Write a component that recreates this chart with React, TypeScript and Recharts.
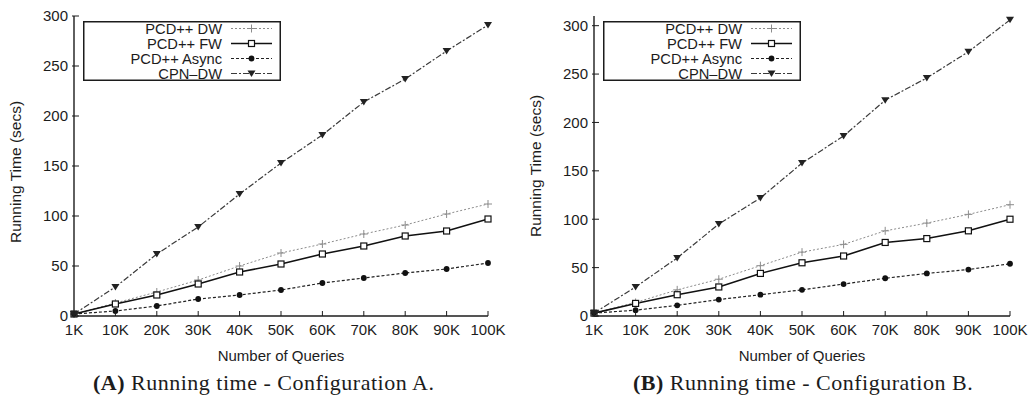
import { LineChart, Line, XAxis, YAxis, Legend } from 'recharts';

const QUERIES = ['1K', '10K', '20K', '30K', '40K', '50K', '60K', '70K', '80K', '90K', '100K'];
const Y_TICKS = [0, 50, 100, 150, 200, 250, 300];

// Configuration A
const A_DW = [2, 13, 24, 36, 50, 63, 72, 82, 91, 102, 112];
const A_FW = [2, 12, 21, 32, 44, 52, 62, 70, 80, 85, 97];
const A_ASYNC = [2, 5, 10, 17, 21, 26, 33, 38, 43, 47, 53];
const A_CPN = [2, 29, 62, 89, 122, 153, 181, 214, 237, 265, 291];

// Configuration B
const B_DW = [3, 14, 27, 38, 52, 66, 74, 88, 96, 105, 115];
const B_FW = [3, 13, 22, 30, 44, 55, 62, 76, 80, 88, 100];
const B_ASYNC = [3, 6, 11, 17, 22, 27, 33, 39, 44, 48, 54];
const B_CPN = [3, 30, 60, 95, 122, 158, 186, 223, 246, 273, 306];

const FONT = '"Liberation Sans", Arial, Helvetica, sans-serif';
const SERIF = '"Liberation Serif", "Times New Roman", Times, serif';
const INK = '#1c1c1c';
const FRAME = 1.4;

type Kind = 'plus' | 'square' | 'circle' | 'triangle';

const SERIES: { key: string; name: string; stroke: string; width: number; dash?: string; marker: Kind }[] = [
  { key: 'dw', name: 'PCD++ DW', stroke: '#8c8c8c', width: 1, dash: '2 2', marker: 'plus' },
  { key: 'fw', name: 'PCD++ FW', stroke: '#111', width: 1.6, marker: 'square' },
  { key: 'async', name: 'PCD++ Async', stroke: '#222', width: 1.2, dash: '3 2', marker: 'circle' },
  { key: 'cpn', name: 'CPN–DW', stroke: '#3a3a3a', width: 1.2, dash: '6 2 2 2', marker: 'triangle' },
];

function buildRows(dw: number[], fw: number[], async: number[], cpn: number[]) {
  return QUERIES.map((q, i) => ({ q, dw: dw[i], fw: fw[i], async: async[i], cpn: cpn[i] }));
}

function Marker({ kind, cx, cy, color }: { kind: Kind; cx: number; cy: number; color: string }) {
  switch (kind) {
    case 'plus':
      return <path d={`M${cx - 4},${cy}H${cx + 4}M${cx},${cy - 4}V${cy + 4}`} stroke={color} strokeWidth={1} fill="none" />;
    case 'square':
      return <rect x={cx - 3} y={cy - 3} width={6} height={6} fill="#fff" stroke="#111" strokeWidth={1.2} />;
    case 'circle':
      return <circle cx={cx} cy={cy} r={2.9} fill="#111" />;
    default:
      return <path d={`M${cx - 4},${cy - 3}L${cx + 4},${cy - 3}L${cx},${cy + 3.5}Z`} fill="#222" />;
  }
}

function BottomTick({ x, y, payload }: any) {
  return (
    <g>
      <line x1={x} x2={x} y1={y - 8} y2={y - 13} stroke={INK} strokeWidth={1} />
      <text x={x} y={y} dy="0.71em" textAnchor="middle" fontSize={15} fontFamily={FONT} fill={INK}>
        {payload.value}
      </text>
    </g>
  );
}

function TopTick({ x, y }: any) {
  return <line x1={x} x2={x} y1={y} y2={y + 5} stroke={INK} strokeWidth={1} />;
}

function LeftTick({ x, y, payload }: any) {
  return (
    <g>
      <line x1={x + 4} x2={x + 11} y1={y} y2={y} stroke={INK} strokeWidth={1} />
      <text x={x} y={y} dy="0.36em" textAnchor="end" fontSize={15} fontFamily={FONT} fill={INK}>
        {payload.value}
      </text>
    </g>
  );
}

function RightTick({ x, y }: any) {
  return <line x1={x} x2={x - 5} y1={y} y2={y} stroke={INK} strokeWidth={1} />;
}

function LegendBox() {
  return (
    <svg width={198} height={60} style={{ display: 'block' }}>
      <rect x={0.75} y={0.75} width={196.5} height={58.5} fill="#fff" stroke={INK} strokeWidth={1.5} />
      {SERIES.map((s, i) => {
        const y = 7.5 + i * 15;
        return (
          <g key={s.key}>
            <text x={139} y={y} dy="0.36em" textAnchor="end" fontSize={14.7} fontFamily={FONT} fill={INK}>
              {s.name}
            </text>
            <line x1={148} x2={189} y1={y} y2={y} stroke={s.stroke} strokeWidth={s.width} strokeDasharray={s.dash} />
            <Marker kind={s.marker} cx={168.5} cy={y} color={s.stroke} />
          </g>
        );
      })}
    </svg>
  );
}

interface ChartProps {
  rows: ReturnType<typeof buildRows>;
  yMax: number;
  width: number;
  rightMargin: number;
  labelCenter: number;
}

function RunningTimeChart({ rows, yMax, width, rightMargin, labelCenter }: ChartProps) {
  const axisLine = { stroke: INK, strokeWidth: FRAME };
  return (
    <LineChart width={width} height={366} data={rows} margin={{ top: 16, right: rightMargin, bottom: 0, left: 0 }}>
      <XAxis
        xAxisId="b"
        dataKey="q"
        interval={0}
        height={50}
        tickSize={0}
        tickMargin={8}
        tickLine={false}
        axisLine={axisLine}
        tick={<BottomTick />}
        label={{ value: 'Number of Queries', position: 'insideBottom', offset: 5, fontSize: 15, fontFamily: FONT, fill: INK }}
      />
      <XAxis
        xAxisId="t"
        dataKey="q"
        orientation="top"
        interval={0}
        height={0}
        tickSize={0}
        tickMargin={0}
        tickLine={false}
        axisLine={axisLine}
        tick={<TopTick />}
      />
      <YAxis
        yAxisId="l"
        type="number"
        domain={[0, yMax]}
        ticks={Y_TICKS}
        width={74}
        tickSize={0}
        tickMargin={6}
        tickLine={false}
        axisLine={axisLine}
        tick={<LeftTick />}
        label={{
          content: () => (
            <text
              transform={`translate(21, ${labelCenter}) rotate(-90)`}
              textAnchor="middle"
              fontSize={15.5}
              fontFamily={FONT}
              fill={INK}
            >
              Running Time (secs)
            </text>
          ),
        }}
      />
      <YAxis
        yAxisId="r"
        type="number"
        orientation="right"
        domain={[0, yMax]}
        ticks={Y_TICKS}
        width={0}
        tickSize={0}
        tickMargin={0}
        tickLine={false}
        axisLine={axisLine}
        tick={<RightTick />}
      />
      <Legend
        layout="vertical"
        align="center"
        verticalAlign="middle"
        wrapperStyle={{ left: 83, top: 21, width: 198, height: 60 }}
        content={() => <LegendBox />}
      />
      {SERIES.map((s) => (
        <Line
          key={s.key}
          xAxisId="b"
          yAxisId="l"
          dataKey={s.key}
          name={s.name}
          stroke={s.stroke}
          strokeWidth={s.width}
          strokeDasharray={s.dash}
          isAnimationActive={false}
          dot={(p: any) => <Marker key={`${s.key}-${p.index}`} kind={s.marker} cx={p.cx} cy={p.cy} color={s.stroke} />}
          activeDot={false}
        />
      ))}
    </LineChart>
  );
}

function Caption({ letter, left }: { letter: string; left: number }) {
  return (
    <div
      style={{
        position: 'absolute',
        left,
        top: 372,
        fontFamily: SERIF,
        fontSize: 22,
        lineHeight: '22px',
        letterSpacing: '0.5px',
        whiteSpace: 'nowrap',
        color: INK,
      }}
    >
      <b>({letter})</b> Running time - Configuration {letter}.
    </div>
  );
}

export default function App() {
  const rowsA = buildRows(A_DW, A_FW, A_ASYNC, A_CPN);
  const rowsB = buildRows(B_DW, B_FW, B_ASYNC, B_CPN);
  return (
    <div style={{ position: 'relative', width: 1028, height: 395, background: '#fff', overflow: 'hidden' }}>
      <style>{'body{margin:0}'}</style>
      <div style={{ position: 'absolute', left: 0, top: 0 }}>
        <RunningTimeChart rows={rowsA} yMax={300} width={514} rightMargin={26} labelCenter={172} />
      </div>
      <div style={{ position: 'absolute', left: 520, top: 0 }}>
        <RunningTimeChart rows={rowsB} yMax={310} width={508} rightMargin={18} labelCenter={166} />
      </div>
      <Caption letter="A" left={93} />
      <Caption letter="B" left={633} />
    </div>
  );
}
